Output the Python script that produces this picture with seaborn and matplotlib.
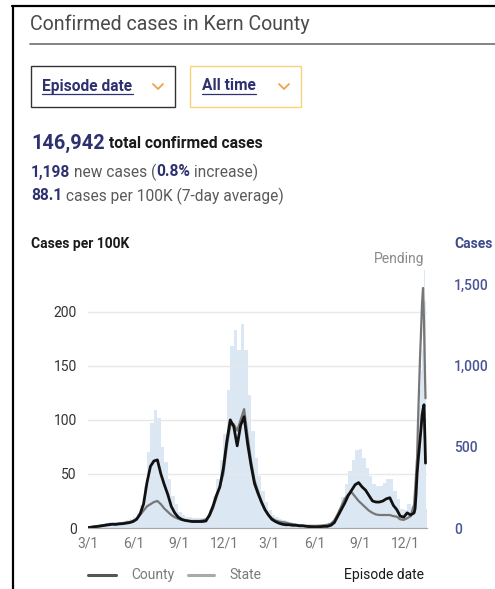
import numpy as np
import pandas as pd
import matplotlib
matplotlib.use("Agg")
import matplotlib.pyplot as plt
import matplotlib.dates as mdates
from matplotlib.lines import Line2D
from matplotlib.patches import Rectangle
import seaborn as sns

# =========================
# data
# =========================
WEEKLY_START = "2020-03-01"
N_WEEKS = 95
LATE_DATES = ["2021-12-21", "2021-12-23", "2021-12-25", "2021-12-27", "2021-12-29", "2021-12-31",
              "2022-01-02", "2022-01-04", "2022-01-06", "2022-01-08", "2022-01-10", "2022-01-11"]

# 7-day average cases per 100K, Kern County
county_per100k = [
    0.3, 0.8, 1.2, 1.5, 2, 2.5, 3, 3.5, 3.3, 3.8, 4, 4.5, 5,
    6, 8, 13, 22, 42, 57, 62, 63, 50, 40, 31, 20, 14,
    10, 8, 7, 6.5, 6, 6, 6, 6, 6.5,
    12, 20, 30, 38, 55, 80, 100, 94, 76, 95, 103, 78, 58, 41, 32, 24, 17, 12, 8,
    6, 4.5, 3.5, 3, 3, 2.5, 2.5, 2, 2, 1.5, 1.2, 1, 1, 1.2, 1.5,
    1.5, 2.5, 5, 11, 17, 23, 30, 35, 40, 42, 38, 35, 30, 25, 24, 24, 25, 27, 28, 21, 17, 11, 10, 14, 12, 14,
    18, 32, 50, 62, 72, 82, 92, 104, 110, 114, 80, 60,
]

# 7-day average cases per 100K, California
state_per100k = [
    0.3, 0.8, 1.5, 2, 2.5, 3, 3.5, 3.5, 3.8, 4, 4.5, 5, 5.5,
    6.5, 8.5, 12, 16, 20, 22, 24, 25, 22, 18, 15, 12, 10,
    8.5, 7.5, 7, 6.5, 6.5, 6.5, 6.5, 7, 8,
    11, 18, 28, 38, 50, 75, 95, 96, 90, 100, 110, 85, 62, 44, 34, 24, 17, 12, 9,
    7, 6, 5.5, 5, 4, 3.5, 3, 2.5, 2.2, 2, 2, 2, 2, 2.2, 2.5,
    3, 4, 7, 13, 20, 27, 31, 33, 29, 25, 22, 19, 16, 14, 12.5, 12, 12, 12, 12, 11, 10.5, 8, 7.5, 9, 11, 22,
    35, 50, 65, 100, 130, 158, 182, 208, 222, 190, 140, 120,
]

# daily confirmed cases (episode date), Kern County
daily_cases = [
    3, 8, 15, 20, 25, 30, 35, 35, 38, 40, 45, 50, 55,
    65, 90, 140, 260, 470, 650, 730, 680, 500, 410, 300, 200, 150,
    100, 80, 70, 65, 60, 60, 60, 60, 70,
    110, 200, 300, 420, 580, 850, 1120, 1220, 1100, 1260, 1100, 820, 600, 430, 320, 230, 160, 110, 80,
    65, 55, 50, 45, 35, 30, 25, 20, 18, 15, 15, 15, 15, 15, 18,
    20, 30, 60, 120, 190, 270, 350, 420, 480, 490, 430, 370, 320, 270, 260, 260, 280, 300, 300, 230, 180, 120, 110, 150, 130, 150,
    170, 320, 520, 650, 760, 860, 970, 1100, 1250, 1590, 1400, 120,
]

tick_dates = ["2020-03-01", "2020-06-01", "2020-09-01", "2020-12-01",
              "2021-03-01", "2021-06-01", "2021-09-01", "2021-12-01"]
tick_labels = ["3/1", "6/1", "9/1", "12/1", "3/1", "6/1", "9/1", "12/1"]
left_ticks = [0, 50, 100, 150, 200]
right_ticks = [0, 500, 1000, 1500]
right_labels = ["0", "500", "1,000", "1,500"]

NAVY = "#2e3170"
W, H = 495, 589


def fx(x):
    return x / W


def fy(y):
    return 1 - y / H


# =========================
# frame
# =========================
dates = list(pd.date_range(WEEKLY_START, periods=N_WEEKS, freq="7D")) + list(pd.to_datetime(LATE_DATES))
df = pd.DataFrame({"date": dates, "county": county_per100k,
                   "state": state_per100k, "cases": daily_cases})

sns.set_theme(style="white")
plt.rcParams["font.family"] = ["Roboto", "DejaVu Sans"]

fig = plt.figure(figsize=(W / 100, H / 100), dpi=100)
fig.patch.set_facecolor("white")

# outer card border
fig.add_artist(Line2D([fx(12.5), fx(12.5)], [fy(6), 0], color="black", lw=1.6, transform=fig.transFigure))
fig.add_artist(Line2D([fx(12), 1], [fy(6), fy(6)], color="black", lw=1.6, transform=fig.transFigure))

# title + rule
fig.text(fx(30), fy(24), "Confirmed cases in Kern County", fontsize=14.1, color="#4a4a4a", va="center")
fig.add_artist(Line2D([fx(30), 1], [fy(44), fy(44)], color="#7a7a7a", lw=1.3, transform=fig.transFigure))

# dropdowns
for (x0, x1, edge, label, lx, ux, cx) in [(31, 175, "#333333", "Episode date", 42, 133, 158),
                                          (190, 301, "#f7d47c", "All time", 202, 256, 284)]:
    fig.add_artist(Rectangle((fx(x0), fy(107)), fx(x1) - fx(x0), fy(66) - fy(107),
                             transform=fig.transFigure, fill=False, edgecolor=edge, lw=1.0))
    fig.text(fx(lx), fy(86), label, fontsize=11.2, fontweight="bold", color=NAVY, va="center")
    fig.add_artist(Line2D([fx(lx), fx(ux)], [fy(94), fy(94)], color=NAVY, lw=0.9, transform=fig.transFigure))
    fig.add_artist(Line2D([fx(cx - 5), fx(cx), fx(cx + 5)], [fy(84), fy(89), fy(84)],
                          color="#f0a24a", lw=1.3, transform=fig.transFigure))

renderer = fig.canvas.get_renderer()


def rich_line(x, y, pieces):
    for txt, size, weight, color in pieces:
        t = fig.text(fx(x), fy(y), txt, fontsize=size, fontweight=weight, color=color, va="center")
        bb = t.get_window_extent(renderer=renderer)
        x += bb.width


rich_line(31, 143, [("146,942", 14.3, "bold", NAVY), (" total confirmed cases", 11.3, "bold", "#1a1a1a")])
rich_line(31, 172, [("1,198", 11.2, "bold", NAVY), (" new cases (", 11.2, "normal", "#5a5a5a"),
                    ("0.8%", 11.2, "bold", NAVY), (" increase)", 11.2, "normal", "#5a5a5a")])
rich_line(31, 196, [("88.1", 11.2, "bold", NAVY), (" cases per 100K (7-day average)", 11.2, "normal", "#5a5a5a")])

# =========================
# chart
# =========================
ax = fig.add_axes([fx(88), fy(528), fx(427) - fx(88), fy(262) - fy(528)])
ax2 = ax.twinx()

widths = np.diff(mdates.date2num(df["date"]))
widths = np.append(widths, 3)
ax.bar(df["date"], df["cases"], width=widths, align="edge", color="#dce7f4", linewidth=0)

ax2.set_ylim(0, 246)
ax.set_ylim(0, 246 * 1.08 / 0.162)
for v in left_ticks[1:]:
    ax2.axhline(v, color="#e8e8e8", lw=1.0, zorder=0)

sns.lineplot(data=df, x="date", y="state", ax=ax2, color="#777777", linewidth=1.6)
sns.lineplot(data=df, x="date", y="county", ax=ax2, color="#111111", linewidth=2.0)

ax.set_xlim(pd.Timestamp("2020-03-01"), pd.Timestamp("2022-01-14"))
ax.set_xticks(pd.to_datetime(tick_dates))
ax.set_xticklabels(tick_labels)
ax.tick_params(axis="x", length=4, width=0.8, color="#888888", pad=2, labelsize=10, labelcolor="#777777")

# bars axis reads on the right, per-100K axis on the left
ax.yaxis.tick_right()
ax.set_yticks(right_ticks)
ax.set_yticklabels(right_labels)
ax.tick_params(axis="y", length=0, pad=19.5, labelsize=10, labelcolor="#4b5596")
for lab in ax.get_yticklabels():
    lab.set_fontweight("medium")
ax2.yaxis.tick_left()
ax2.set_yticks(left_ticks)
ax2.tick_params(axis="y", length=0, pad=8, labelsize=10, labelcolor="#333333")

for a in (ax, ax2):
    a.set_xlabel("")
    a.set_ylabel("")
    for s in ("top", "left", "right"):
        a.spines[s].set_visible(False)
    a.spines["bottom"].set_color("#a8a8a8")
    a.spines["bottom"].set_linewidth(0.8)
    a.set_facecolor("none")

fig.text(fx(31), fy(244), "Cases per 100K", fontsize=10, fontweight="bold", color="#1a1a1a", va="center")
fig.text(fx(454), fy(244), "Cases", fontsize=10, fontweight="bold", color="#3d4a8c", va="center")
fig.text(fx(424), fy(259), "Pending", fontsize=10, color="#8a8a8a", va="center", ha="right")

# legend row
fig.add_artist(Line2D([fx(88), fx(116)], [fy(575), fy(575)], color="#555555", lw=2.2, transform=fig.transFigure))
fig.text(fx(131), fy(575), "County", fontsize=10, color="#7a7a7a", va="center")
fig.add_artist(Line2D([fx(188), fx(214)], [fy(575), fy(575)], color="#aaaaaa", lw=2.2, transform=fig.transFigure))
fig.text(fx(229), fy(575), "State", fontsize=10, color="#7a7a7a", va="center")
fig.text(fx(424), fy(575), "Episode date", fontsize=10, color="#1a1a1a", va="center", ha="right")

fig.savefig("out.png", dpi=100, facecolor="white")
